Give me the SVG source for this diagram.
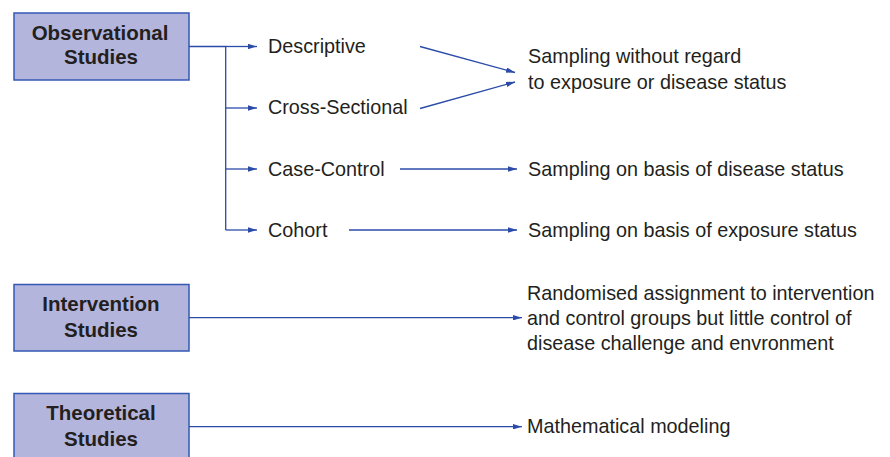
<svg xmlns="http://www.w3.org/2000/svg" width="890" height="457" viewBox="0 0 890 457">
<defs>
<marker id="ah" viewBox="0 0 10 6" refX="10" refY="3" markerWidth="9" markerHeight="5.4" markerUnits="userSpaceOnUse" orient="auto">
<path d="M0,0 L10,3 L0,6 Z" fill="#2b4ba8"/>
</marker>
<style>
.box{fill:#b3b5dc;stroke:#3558b5;stroke-width:1.5}
.bt{font-family:"Liberation Sans",Arial,sans-serif;font-weight:bold;font-size:20.5px;fill:#231f20;text-anchor:middle}
.t{font-family:"Liberation Sans",Arial,sans-serif;font-size:19.8px;fill:#231f20}
.c{fill:none;stroke:#2b4ba8;stroke-width:1.3}
.a{marker-end:url(#ah)}
</style>
</defs>
<rect width="890" height="457" fill="#fff"/>
<g id="observational">
<rect class="box" x="14" y="13" width="175" height="67"/>
<text class="bt" x="100" y="40">Observational</text>
<text class="bt" x="101" y="64">Studies</text>
</g>
<g id="intervention">
<rect class="box" x="14" y="284.5" width="175" height="66.5"/>
<text class="bt" x="101" y="311">Intervention</text>
<text class="bt" x="101" y="336.5">Studies</text>
</g>
<g id="theoretical">
<rect class="box" x="14" y="393.5" width="175" height="70"/>
<text class="bt" x="101" y="420">Theoretical</text>
<text class="bt" x="101" y="445.5">Studies</text>
</g>
<g id="descriptive"><text class="t" x="268" y="53">Descriptive</text></g>
<g id="cross-sectional"><text class="t" x="268" y="114">Cross-Sectional</text></g>
<g id="case-control"><text class="t" x="268" y="176">Case-Control</text></g>
<g id="cohort"><text class="t" x="268" y="237">Cohort</text></g>
<g id="sampling-without">
<text class="t" x="528" y="63">Sampling without regard</text>
<text class="t" x="528" y="89">to exposure or disease status</text>
</g>
<g id="sampling-disease"><text class="t" x="528" y="176">Sampling on basis of disease status</text></g>
<g id="sampling-exposure"><text class="t" x="528" y="237">Sampling on basis of exposure status</text></g>
<g id="randomised">
<text class="t" x="527" y="300">Randomised assignment to intervention</text>
<text class="t" x="527" y="325">and control groups but little control of</text>
<text class="t" x="527" y="350">disease challenge and envronment</text>
</g>
<g id="mathematical"><text class="t" x="527" y="433">Mathematical modeling</text></g>
<g id="connectors">
<path class="c" d="M189,46.5 H225.7 V230"/>
<path class="c a" d="M225.7,46.5 H257"/>
<path class="c a" d="M225.7,108 H257"/>
<path class="c a" d="M225.7,169 H257"/>
<path class="c a" d="M225.7,230 H257"/>
<path class="c a" d="M420,46.5 L515,72.5"/>
<path class="c a" d="M420,108.5 L515,82"/>
<path class="c a" d="M400,169 H517"/>
<path class="c a" d="M349,230 H517"/>
<path class="c a" d="M189,317.7 H522"/>
<path class="c a" d="M189,426.7 H522"/>
</g>
</svg>
